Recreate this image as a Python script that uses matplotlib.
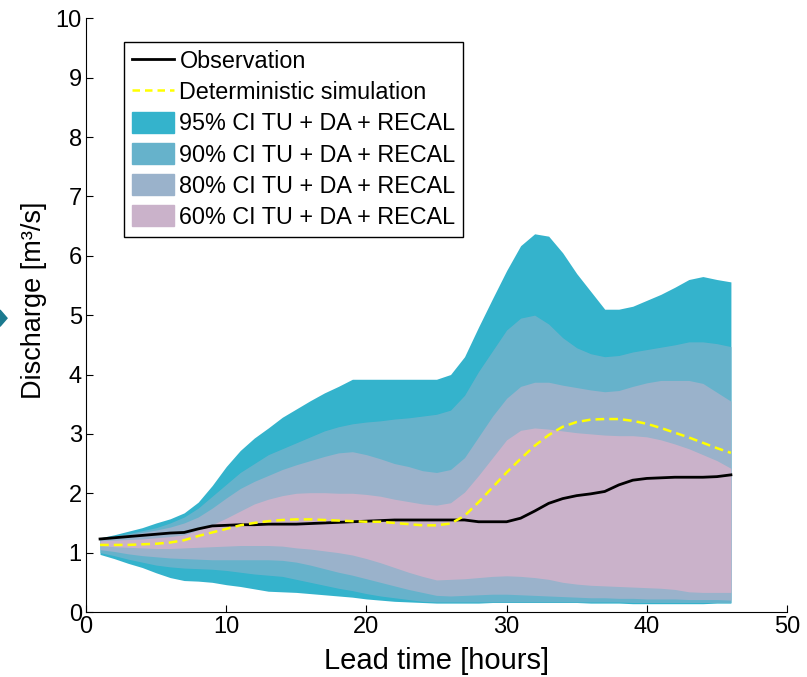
import numpy as np
import matplotlib.pyplot as plt
from matplotlib.patches import Patch, Polygon

plt.rcParams['font.family'] = ['Liberation Sans', 'DejaVu Sans']

hours = np.arange(1, 47)

obs = [1.23, 1.25, 1.27, 1.29, 1.31, 1.33, 1.34, 1.40, 1.45, 1.46,
       1.47, 1.47, 1.48, 1.48, 1.48, 1.49, 1.50, 1.51, 1.52, 1.53,
       1.54, 1.55, 1.55, 1.55, 1.55, 1.55, 1.55, 1.52, 1.52, 1.52,
       1.58, 1.70, 1.83, 1.91, 1.96, 1.99, 2.03, 2.14, 2.22, 2.25,
       2.26, 2.27, 2.27, 2.27, 2.28, 2.31]

det = [1.13, 1.13, 1.13, 1.14, 1.15, 1.17, 1.21, 1.28, 1.34, 1.40,
       1.46, 1.50, 1.53, 1.55, 1.56, 1.56, 1.55, 1.54, 1.53, 1.52,
       1.52, 1.50, 1.48, 1.46, 1.46, 1.49, 1.62, 1.85, 2.10, 2.35,
       2.58, 2.80, 2.98, 3.12, 3.20, 3.24, 3.25, 3.25, 3.22, 3.17,
       3.10, 3.02, 2.94, 2.85, 2.76, 2.68]

up95 = [1.25, 1.30, 1.36, 1.42, 1.50, 1.57, 1.67, 1.85, 2.13, 2.45,
        2.72, 2.93, 3.10, 3.28, 3.42, 3.56, 3.69, 3.80, 3.92, 3.92,
        3.92, 3.92, 3.92, 3.92, 3.92, 4.00, 4.30, 4.80, 5.28, 5.75,
        6.17, 6.37, 6.33, 6.05, 5.70, 5.40, 5.10, 5.10, 5.15, 5.25,
        5.35, 5.47, 5.60, 5.65, 5.60, 5.56]
lo95 = [0.97, 0.90, 0.82, 0.75, 0.66, 0.58, 0.53, 0.52, 0.50, 0.46,
        0.43, 0.39, 0.35, 0.34, 0.33, 0.31, 0.29, 0.27, 0.25, 0.22,
        0.20, 0.18, 0.17, 0.16, 0.15, 0.15, 0.15, 0.15, 0.16, 0.16,
        0.16, 0.16, 0.16, 0.16, 0.16, 0.15, 0.15, 0.15, 0.14, 0.14,
        0.14, 0.14, 0.14, 0.14, 0.15, 0.15]

up90 = [1.24, 1.28, 1.32, 1.37, 1.42, 1.50, 1.60, 1.75, 1.95, 2.15,
        2.35, 2.50, 2.65, 2.75, 2.85, 2.95, 3.05, 3.12, 3.17, 3.20,
        3.22, 3.25, 3.27, 3.30, 3.33, 3.40, 3.65, 4.05, 4.40, 4.75,
        4.95, 5.00, 4.85, 4.62, 4.45, 4.35, 4.30, 4.32, 4.38, 4.42,
        4.46, 4.50, 4.55, 4.55, 4.52, 4.47]
lo90 = [1.00, 0.95, 0.89, 0.84, 0.79, 0.76, 0.74, 0.73, 0.72, 0.70,
        0.67, 0.64, 0.62, 0.60, 0.55, 0.50, 0.45, 0.40, 0.36, 0.31,
        0.27, 0.24, 0.21, 0.18, 0.17, 0.17, 0.17, 0.17, 0.17, 0.17,
        0.17, 0.17, 0.17, 0.17, 0.17, 0.17, 0.17, 0.17, 0.16, 0.16,
        0.16, 0.16, 0.16, 0.16, 0.16, 0.16]

up80 = [1.23, 1.26, 1.30, 1.34, 1.38, 1.43, 1.50, 1.60, 1.75, 1.92,
        2.08, 2.20, 2.30, 2.40, 2.48, 2.55, 2.62, 2.68, 2.70, 2.65,
        2.58, 2.50, 2.45, 2.38, 2.35, 2.40, 2.60, 2.95, 3.30, 3.60,
        3.80, 3.87, 3.87, 3.82, 3.78, 3.74, 3.71, 3.73, 3.80, 3.86,
        3.90, 3.90, 3.90, 3.85, 3.70, 3.55]
lo80 = [1.05, 1.02, 0.98, 0.95, 0.93, 0.91, 0.90, 0.89, 0.88, 0.88,
        0.88, 0.88, 0.88, 0.87, 0.84, 0.79, 0.73, 0.67, 0.62, 0.56,
        0.50, 0.44, 0.38, 0.33, 0.28, 0.27, 0.28, 0.29, 0.30, 0.30,
        0.29, 0.28, 0.27, 0.26, 0.25, 0.24, 0.24, 0.23, 0.23, 0.22,
        0.22, 0.22, 0.21, 0.21, 0.21, 0.20]

up60 = [1.20, 1.21, 1.22, 1.23, 1.25, 1.27, 1.30, 1.38, 1.47, 1.58,
        1.70, 1.82, 1.90, 1.96, 2.00, 2.01, 2.01, 2.00, 2.00, 1.98,
        1.95, 1.90, 1.86, 1.82, 1.80, 1.84, 2.02, 2.30, 2.60, 2.90,
        3.06, 3.10, 3.08, 3.05, 3.02, 3.00, 2.98, 2.97, 2.97, 2.95,
        2.90, 2.83, 2.75, 2.65, 2.55, 2.42]
lo60 = [1.12, 1.10, 1.09, 1.08, 1.07, 1.07, 1.08, 1.09, 1.10, 1.11,
        1.12, 1.12, 1.12, 1.11, 1.08, 1.06, 1.03, 1.00, 0.96, 0.90,
        0.83, 0.75, 0.67, 0.60, 0.54, 0.55, 0.56, 0.58, 0.60, 0.61,
        0.60, 0.58, 0.55, 0.50, 0.47, 0.45, 0.44, 0.43, 0.42, 0.41,
        0.40, 0.38, 0.34, 0.33, 0.33, 0.33]

c95, c90, c80, c60 = '#34b3cc', '#66b2cb', '#9ab2cb', '#cab2ca'

fig = plt.figure(figsize=(8.07, 6.77), dpi=100)
ax = fig.add_axes([0.1066, 0.096, 0.8686, 0.877])

ax.fill_between(hours, lo95, up95, color=c95, lw=0)
ax.fill_between(hours, lo90, up90, color=c90, lw=0)
ax.fill_between(hours, lo80, up80, color=c80, lw=0)
ax.fill_between(hours, lo60, up60, color=c60, lw=0)
ax.plot(hours, obs, color='black', lw=2)
ax.plot(hours, det, color='#ffff00', lw=1.8, ls=(0, (3.5, 2)))

ax.set_xlim(0, 50)
ax.set_ylim(0, 10)
ax.set_xticks(range(0, 51, 10))
ax.set_yticks(range(0, 11))
ax.spines['top'].set_visible(False)
ax.spines['right'].set_visible(False)
ax.tick_params(direction='in', length=5, labelsize=17, pad=3)
ax.set_xlabel('Lead time [hours]', fontsize=21, labelpad=6)
ax.set_ylabel('Discharge [m³/s]', fontsize=19.5)
ax.yaxis.set_label_coords(-0.056, 0.525)

handles = [plt.Line2D([], [], color='black', lw=2),
           plt.Line2D([], [], color='#ffff00', lw=1.8, ls=(0, (3, 2))),
           Patch(color=c95), Patch(color=c90), Patch(color=c80), Patch(color=c60)]
labels = ['Observation', 'Deterministic simulation',
          '95% CI TU + DA + RECAL', '90% CI TU + DA + RECAL',
          '80% CI TU + DA + RECAL', '60% CI TU + DA + RECAL']
leg = ax.legend(handles, labels, loc='upper left', bbox_to_anchor=(0.054, 0.96),
                borderaxespad=0, fontsize=16.8, fancybox=False, edgecolor='black',
                framealpha=1, handlelength=1.8, handleheight=1.0,
                labelspacing=0.33, handletextpad=0.25, borderpad=0.33)
leg.get_frame().set_linewidth(1.0)

fig.patches.append(Polygon([[0, 0.542], [0.0087, 0.530], [0, 0.518]], closed=True,
                           transform=fig.transFigure, color='#1b7a8f'))

fig.savefig('out.png', dpi=100)
